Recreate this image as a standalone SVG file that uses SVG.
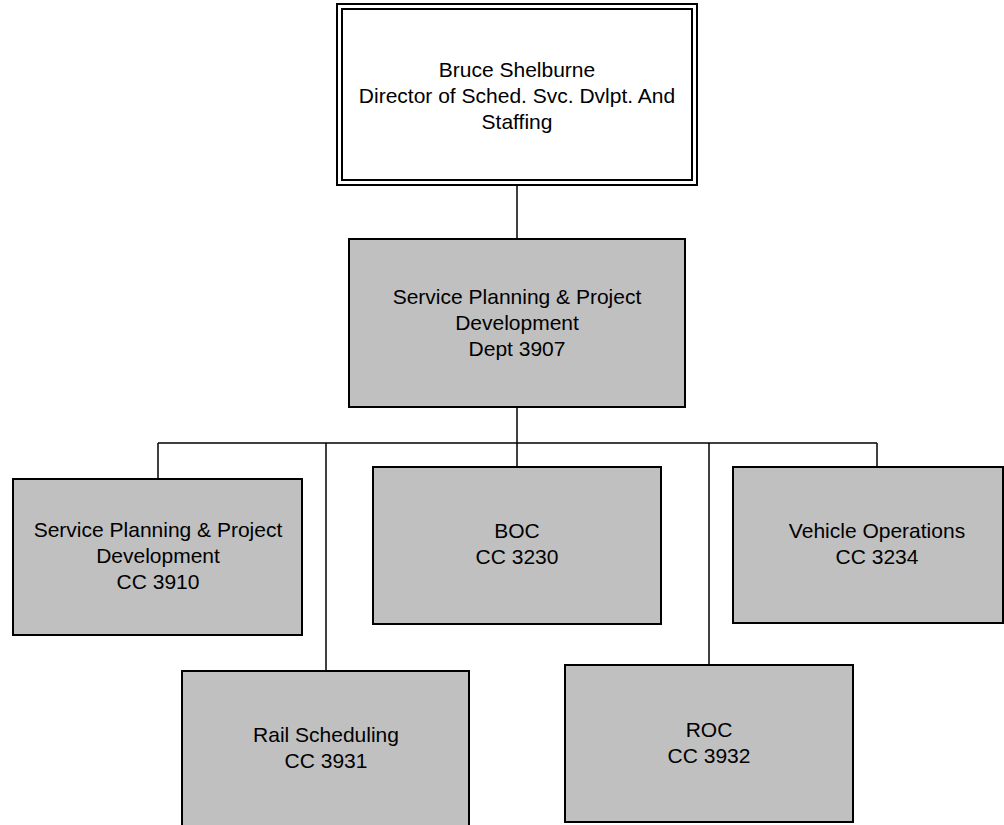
<svg xmlns="http://www.w3.org/2000/svg" width="1004" height="825" viewBox="0 0 1004 825">
<style>
.box{fill:#C0C0C0;stroke:#000;stroke-width:2}
.top{fill:#fff;stroke:#000;stroke-width:2}
.conn{fill:none;stroke:#000;stroke-width:1.5}
text{font-family:"Liberation Sans",Arial,sans-serif;font-size:21px;fill:#000;text-anchor:middle}
</style>
<rect width="1004" height="825" fill="#fff"/>
<g id="connectors">
<line class="conn" x1="517" y1="185" x2="517" y2="239"/>
<line class="conn" x1="517" y1="407" x2="517" y2="467"/>
<line class="conn" x1="158" y1="443" x2="877" y2="443"/>
<line class="conn" x1="158" y1="443" x2="158" y2="479"/>
<line class="conn" x1="326" y1="443" x2="326" y2="671"/>
<line class="conn" x1="709" y1="443" x2="709" y2="665"/>
<line class="conn" x1="877" y1="443" x2="877" y2="467"/>
</g>
<g id="director">
<rect class="top" x="337" y="4" width="360" height="181"/>
<rect class="top" x="342" y="9" width="350" height="171"/>
<text x="517" y="77">Bruce Shelburne</text>
<text x="517" y="103">Director of Sched. Svc. Dvlpt. And</text>
<text x="517" y="129">Staffing</text>
</g>
<g id="dept3907">
<rect class="box" x="349" y="239" width="336" height="168"/>
<text x="517" y="304">Service Planning &amp; Project</text>
<text x="517" y="330">Development</text>
<text x="517" y="356">Dept 3907</text>
</g>
<g id="cc3910">
<rect class="box" x="13" y="479" width="289" height="156"/>
<text x="158" y="537">Service Planning &amp; Project</text>
<text x="158" y="563">Development</text>
<text x="158" y="589">CC 3910</text>
</g>
<g id="cc3230">
<rect class="box" x="373" y="467" width="288" height="157"/>
<text x="517" y="538">BOC</text>
<text x="517" y="564">CC 3230</text>
</g>
<g id="cc3234">
<rect class="box" x="733" y="467" width="270" height="156"/>
<text x="877" y="538">Vehicle Operations</text>
<text x="877" y="564">CC 3234</text>
</g>
<g id="cc3931">
<rect class="box" x="182" y="671" width="287" height="160"/>
<text x="326" y="742">Rail Scheduling</text>
<text x="326" y="768">CC 3931</text>
</g>
<g id="cc3932">
<rect class="box" x="565" y="665" width="288" height="157"/>
<text x="709" y="737">ROC</text>
<text x="709" y="763">CC 3932</text>
</g>
</svg>
